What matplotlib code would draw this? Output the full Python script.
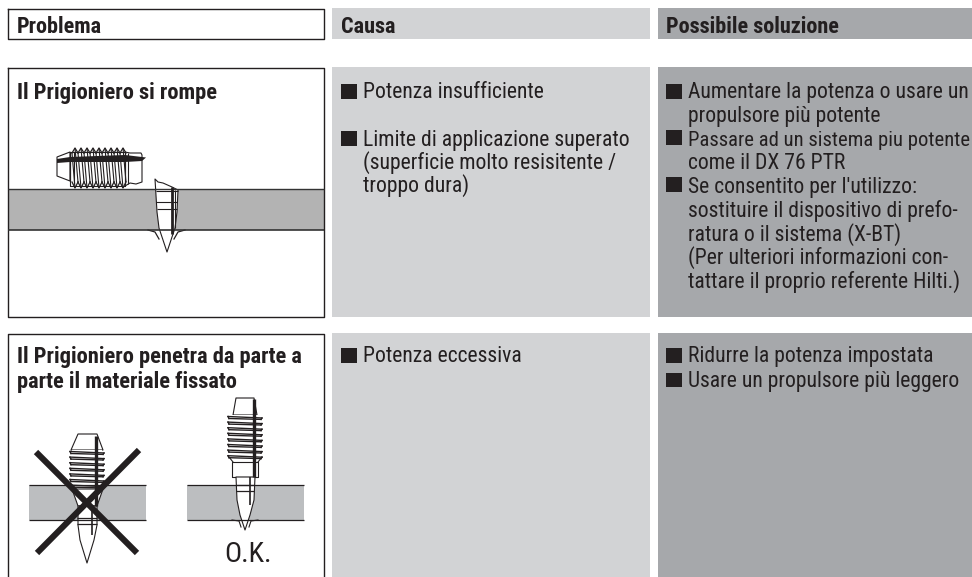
import matplotlib
matplotlib.use("Agg")
import matplotlib.pyplot as plt
from matplotlib.patches import Rectangle, Polygon

FONT = ['Roboto Condensed', 'Archivo Narrow', 'DejaVu Sans']
BOLD = ['Roboto Condensed', 'Archivo Narrow', 'DejaVu Sans']

W, H = 972, 577
fig = plt.figure(figsize=(W/100, H/100), dpi=100)
ax = fig.add_axes([0, 0, 1, 1])
ax.set_xlim(0, W); ax.set_ylim(H, 0); ax.axis('off')

LIGHT = '#d2d3d5'; DARK = '#a6a8ab'; INK = '#231f20'; PLATE = '#b3b3b3'; PLATE2 = '#bcbec0'

headers = ['Problema', 'Causa', 'Possibile soluzione']
header_x = [17, 341, 666]

causa_lines = ['Potenza insufficiente', 'Limite di applicazione superato',
               '(superficie molto resisitente /', 'troppo dura)', 'Potenza eccessiva']
causa_base = [98, 146, 169, 192, 362]
causa_bullets = [84, 131, 348]

soluzione_lines = ['Aumentare la potenza o usare un', 'propulsore più potente',
                   'Passare ad un sistema piu potente', 'come il DX 76 PTR',
                   "Se consentito per l'utilizzo:", 'sostituire il dispositivo di prefo-',
                   'ratura o il sistema (X-BT)', '(Per ulteriori informazioni con-',
                   'tattare il proprio referente Hilti.)',
                   'Ridurre la potenza impostata', 'Usare un propulsore più leggero']
soluzione_base = [98, 122, 145.5, 169, 193, 216.5, 240.5, 264, 288, 362, 387]
soluzione_bullets = [84, 130, 177, 348, 372.5]

problem_titles = ['Il Prigioniero si rompe', 'Il Prigioniero penetra da parte a', 'parte il materiale fissato']
problem_base = [99, 363, 388]

def rect(x0, y0, x1, y1, fc='none', z=1):
    ax.add_patch(Rectangle((x0, y0), x1-x0, y1-y0, fc=fc, ec='none', lw=0, zorder=z))

def poly(pts, fc='white', ec=INK, lw=0.8, z=3):
    ax.add_patch(Polygon(pts, closed=True, fc=fc, ec=ec, lw=lw, zorder=z, joinstyle='round'))

def seg(x0, y0, x1, y1, c=INK, lw=0.8, z=4):
    ax.plot([x0, x1], [y0, y1], color=c, lw=lw, zorder=z, solid_capstyle='butt')

# column backgrounds
rect(332, 8, 650, 39, LIGHT); rect(658, 8, 972, 39, DARK)
rect(332, 67, 650, 317, LIGHT); rect(658, 67, 972, 317, DARK)
rect(332, 333, 650, 577, LIGHT); rect(658, 333, 972, 577, DARK)
# problem frames
ax.plot([8, 324, 324, 8, 8], [9, 9, 38.5, 38.5, 9], color=INK, lw=1.0, zorder=4)
ax.plot([8, 324, 324, 8, 8], [68, 68, 317, 317, 68], color=INK, lw=1.0, zorder=4)
ax.plot([8, 8, 324, 324], [577, 333.5, 333.5, 577], color=INK, lw=1.0, zorder=4)

HEAD_FS = 16.0; BODY_FS = 15.6; TITLE_FS = 16.2; TIGHT_FS = 14.9
for t, x in zip(headers, header_x):
    ax.text(x, 32.7, t, fontsize=HEAD_FS, fontweight='bold', family=BOLD, color=INK, va='baseline', zorder=6)
for t, y in zip(problem_titles, problem_base):
    ax.text(17, y, t, fontsize=TITLE_FS, fontweight='bold', family=BOLD, color=INK, va='baseline', zorder=6)
for t, y in zip(causa_lines, causa_base):
    ax.text(363, y, t, fontsize=BODY_FS, family=FONT, color=INK, va='baseline', zorder=6)
for t, y in zip(soluzione_lines, soluzione_base):
    fs = TIGHT_FS if t.startswith('Passare') else BODY_FS
    ax.text(688, y, t, fontsize=fs, family=FONT, color=INK, va='baseline', zorder=6)
for y in causa_bullets:
    rect(341, y, 357, y+14.5, INK, z=5)
for y in soluzione_bullets:
    rect(666, y, 682, y+14.5, INK, z=5)

# plate, first panel
rect(8, 189, 324, 230, PLATE, z=2)
seg(8, 189, 324, 189, c='#333333', lw=1.0)
seg(8, 230, 324, 230, c='#333333', lw=1.2)

# broken stud lying on the plate
poly([(57, 157), (70, 152), (70, 181), (57, 176)])
poly([(125, 152), (130, 153), (141, 153), (142, 155), (142, 182), (136, 184), (130, 183), (125, 186)])
poly([(70, 152), (125, 152), (125, 186), (70, 186)])
for x in range(72, 123, 6):
    ax.plot([x, x+3, x+6], [153, 148, 153], color=INK, lw=0.9, zorder=4)
    ax.plot([x, x+3, x+6], [182, 188, 182], color=INK, lw=0.9, zorder=4)
    seg(x, 153, x+3, 188, lw=0.8)
    seg(x+3, 148, x+6, 182, lw=0.8)
seg(70, 152, 70, 181); seg(74, 152, 74, 184); seg(125, 152, 125, 186); seg(128, 153, 128, 184)
ax.fill([57, 70, 125, 142, 146, 142, 125, 70, 57], [159, 157, 155, 157, 157.5, 161, 162, 162, 163], color=INK, lw=0, zorder=5)

# broken stud tip in the plate
ax.plot([148, 155, 159], [230, 232, 239], color=INK, lw=0.9, zorder=3)
ax.plot([185, 178, 174], [230, 232, 239], color=INK, lw=0.9, zorder=3)
poly([(155, 179), (158, 182), (163, 183), (172, 187), (178, 190), (177, 212), (175, 228), (167, 252), (159, 228), (157, 212)])
seg(156, 191, 178, 191); seg(156, 202, 177, 202); seg(157, 209, 177, 209)
seg(172, 187, 172, 234, lw=2.0)
seg(175, 190, 175, 228, lw=0.8)

# second panel plates
for x0, x1 in ((29, 146), (187, 304)):
    rect(x0, 485, x1, 520, PLATE2, z=2)
    seg(x0, 485, x1, 485, lw=0.9); seg(x0, 520, x1, 520, lw=0.9)

def threads(cx, y0, y1, half):
    poly([(cx-half+2, y0), (cx+half-2, y0), (cx+half-2, y1), (cx-half+2, y1)], ec='none')
    y = y0
    while y < y1-2:
        ax.plot([cx-half, cx+half], [y+1.5, y+3], color=INK, lw=1.0, zorder=4)
        ax.plot([cx-half+1, cx+half-1], [y+3.5, y+4.4], color=INK, lw=1.0, zorder=4)
        ax.plot([cx-half, cx-half+1], [y+1.5, y+3.5], color=INK, lw=1.0, zorder=4)
        ax.plot([cx+half, cx+half-1], [y+3, y+4.4], color=INK, lw=1.0, zorder=4)
        y += 5.6

def bands(cx, half, ys):
    for y in ys:
        seg(cx-half, y, cx+half, y, lw=0.9)

# wrong case stud
cx = 87
poly([(78, 434), (97, 434), (103, 450), (71, 450)])
threads(cx, 450, 489, 17)
poly([(72, 489), (103, 489), (97, 506), (78, 506)])
poly([(78, 506), (97, 506), (97, 525), (94, 540), (87, 563), (80, 540), (78, 525)])
bands(cx, 10, [518, 524])
seg(96, 436, 96, 506, lw=2.4, z=5)
seg(92, 506, 92, 535, lw=1.2)

# correct case stud
cx = 245
poly([(236, 398), (254, 398), (257, 415), (233, 415)])
threads(cx, 415, 459, 17)
poly([(232, 462), (258, 462), (258, 477), (232, 477)])
ax.plot([229, 233], [457, 462], color=INK, lw=0.8, zorder=4)
ax.plot([262, 258], [457, 462], color=INK, lw=0.8, zorder=4)
poly([(236, 477), (255, 477), (254, 500), (250, 515), (245, 530), (240, 515), (237, 500)])
ax.plot([232, 239, 241], [520, 521, 527], color=INK, lw=0.8, zorder=3)
ax.plot([258, 251, 249], [520, 521, 527], color=INK, lw=0.8, zorder=3)
bands(cx, 9, [485, 491])
seg(254, 399, 254, 477, lw=2.4, z=5)
seg(250, 477, 250, 505, lw=1.2)

# the X over the wrong case
ax.plot([36, 137], [452, 553], color=INK, lw=4.4, zorder=7, solid_capstyle='butt')
ax.plot([139, 37], [450, 553], color=INK, lw=4.4, zorder=7, solid_capstyle='butt')

ax.text(248, 562, 'O.K.', fontsize=20.5, family=FONT, color=INK, ha='center', va='baseline', zorder=6)

fig.savefig('out.png', dpi=100)
